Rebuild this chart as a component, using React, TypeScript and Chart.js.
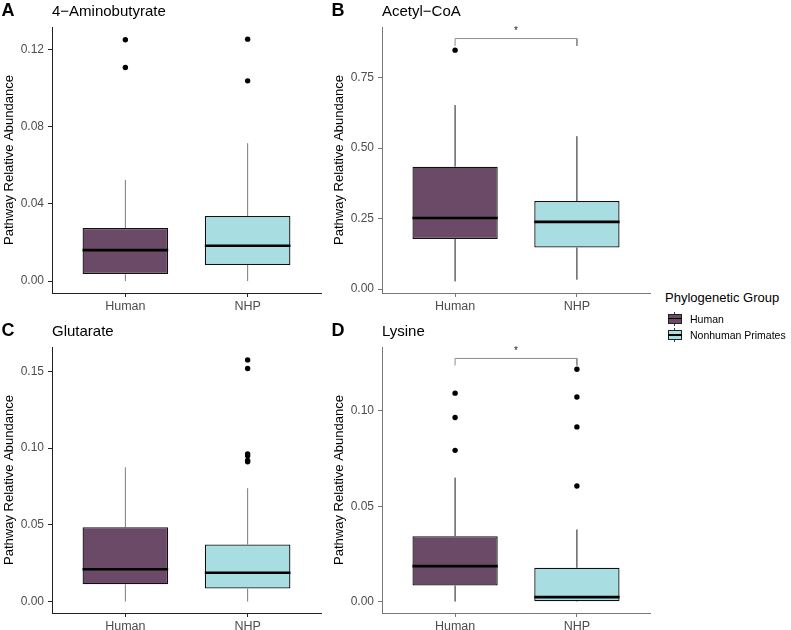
import React, { useEffect, useRef } from "react";
import { Chart, registerables } from "chart.js";

Chart.register(...registerables);
Chart.defaults.font.family = "'Liberation Sans', Arial, Helvetica, sans-serif";

// ---------- data ----------
const groups = ["Human", "NHP"];
const groupColors = ["#6a4a66", "#a8dde1"];
const legendTitle = "Phylogenetic Group";
const legendLabels = ["Human", "Nonhuman Primates"];
const yTitle = "Pathway Relative Abundance";

// Panel A
const aTitle = "4−Aminobutyrate";
const aLow = [0, 0];
const aQ1 = [0.0036, 0.0083];
const aMed = [0.016, 0.0183];
const aQ3 = [0.0275, 0.0337];
const aHigh = [0.0524, 0.0714];
const aOutHuman = [0.125, 0.1106];
const aOutNHP = [0.1253, 0.1037];
const aTicks = [0, 0.04, 0.08, 0.12];
const aTickLabels = ["0.00", "0.04", "0.08", "0.12"];
const aRange = [-0.0062, 0.1316];

// Panel B
const bTitle = "Acetyl−CoA";
const bLow = [0.027, 0.033];
const bQ1 = [0.177, 0.147];
const bMed = [0.252, 0.238];
const bQ3 = [0.434, 0.312];
const bHigh = [0.652, 0.542];
const bOutHuman = [0.847];
const bOutNHP: number[] = [];
const bTicks = [0, 0.25, 0.5, 0.75];
const bTickLabels = ["0.00", "0.25", "0.50", "0.75"];
const bRange = [-0.014, 0.929];
const bBracket = [0.862, 0.888];
const bSig = "*";

// Panel C
const cTitle = "Glutarate";
const cLow = [0, 0];
const cQ1 = [0.0112, 0.0084];
const cMed = [0.021, 0.0188];
const cQ3 = [0.0484, 0.0372];
const cHigh = [0.0875, 0.0739];
const cOutHuman: number[] = [];
const cOutNHP = [0.1576, 0.152, 0.0963, 0.095, 0.092, 0.0912];
const cTicks = [0, 0.05, 0.1, 0.15];
const cTickLabels = ["0.00", "0.05", "0.10", "0.15"];
const cRange = [-0.0075, 0.166];

// Panel D
const dTitle = "Lysine";
const dLow = [0, 0];
const dQ1 = [0.0084, 0.0002];
const dMed = [0.0186, 0.0023];
const dQ3 = [0.0343, 0.0177];
const dHigh = [0.065, 0.0378];
const dOutHuman = [0.1093, 0.0965, 0.0793];
const dOutNHP = [0.1218, 0.1073, 0.0916, 0.0606];
const dTicks = [0, 0.05, 0.1];
const dTickLabels = ["0.00", "0.05", "0.10"];
const dRange = [-0.006, 0.1335];
const dBracket = [0.1238, 0.1275];
const dSig = "*";

// ---------- styling ----------
const FONT = "'Liberation Sans', Arial, Helvetica, sans-serif";
const TICK_COLOR = "#4d4d4d";

type PanelSpec = {
  letter: string;
  title: string;
  low: number[];
  q1: number[];
  med: number[];
  q3: number[];
  high: number[];
  outliers: number[][];
  ticks: number[];
  tickLabels: string[];
  range: number[];
  bracket: number[] | null;
  sig: string;
  axisColor: string;
  whiskerColor: string;
  left: number;
  top: number;
  width: number;
  height: number;
  padTop: number;
  padRight: number;
};

const panels: PanelSpec[] = [
  {
    letter: "A", title: aTitle, low: aLow, q1: aQ1, med: aMed, q3: aQ3, high: aHigh,
    outliers: [aOutHuman, aOutNHP], ticks: aTicks, tickLabels: aTickLabels, range: aRange,
    bracket: null, sig: "", axisColor: "#222222", whiskerColor: "#7a7a7a",
    left: 0, top: 0, width: 330, height: 310, padTop: 27, padRight: 9,
  },
  {
    letter: "B", title: bTitle, low: bLow, q1: bQ1, med: bMed, q3: bQ3, high: bHigh,
    outliers: [bOutHuman, bOutNHP], ticks: bTicks, tickLabels: bTickLabels, range: bRange,
    bracket: bBracket, sig: bSig, axisColor: "#777777", whiskerColor: "#1a1a1a",
    left: 330, top: 0, width: 330, height: 310, padTop: 27, padRight: 10,
  },
  {
    letter: "C", title: cTitle, low: cLow, q1: cQ1, med: cMed, q3: cQ3, high: cHigh,
    outliers: [cOutHuman, cOutNHP], ticks: cTicks, tickLabels: cTickLabels, range: cRange,
    bracket: null, sig: "", axisColor: "#222222", whiskerColor: "#7a7a7a",
    left: 0, top: 310, width: 330, height: 320, padTop: 37, padRight: 9,
  },
  {
    letter: "D", title: dTitle, low: dLow, q1: dQ1, med: dMed, q3: dQ3, high: dHigh,
    outliers: [dOutHuman, dOutNHP], ticks: dTicks, tickLabels: dTickLabels, range: dRange,
    bracket: dBracket, sig: dSig, axisColor: "#777777", whiskerColor: "#1a1a1a",
    left: 330, top: 310, width: 330, height: 320, padTop: 37, padRight: 10,
  },
];

const HALF_BOX = 0.35;

const sigPlugin = {
  id: "sigStar",
  afterDatasetsDraw(chart: any) {
    const opts = chart.options.plugins.sigStar;
    if (!opts || !opts.text) return;
    const { ctx, scales } = chart;
    const x = scales.x.getPixelForValue(opts.x);
    const y = scales.y.getPixelForValue(opts.y);
    ctx.save();
    ctx.fillStyle = "#222";
    ctx.font = `10px ${FONT}`;
    ctx.textAlign = "center";
    ctx.textBaseline = "alphabetic";
    ctx.fillText(opts.text, x, y - 4.5);
    ctx.restore();
  },
};

function buildConfig(p: PanelSpec): any {
  const datasets: any[] = [];
  datasets.push({
    type: "bar",
    data: groups.map((_, i) => ({ x: i + 1, y: [p.q1[i], p.q3[i]] })),
    backgroundColor: groupColors,
    borderColor: "#111111",
    borderWidth: 1.3,
    borderSkipped: false,
    categoryPercentage: 0.7,
    barPercentage: 1,
    order: 5,
  });
  groups.forEach((_, i) => {
    datasets.push({
      type: "line",
      data: [{ x: i + 1, y: p.q3[i] }, { x: i + 1, y: p.high[i] }],
      borderColor: p.whiskerColor, borderWidth: 1, pointRadius: 0, fill: false, order: 6,
    });
    datasets.push({
      type: "line",
      data: [{ x: i + 1, y: p.low[i] }, { x: i + 1, y: p.q1[i] }],
      borderColor: p.whiskerColor, borderWidth: 1, pointRadius: 0, fill: false, order: 6,
    });
    datasets.push({
      type: "line",
      data: [{ x: i + 1 - HALF_BOX, y: p.med[i] }, { x: i + 1 + HALF_BOX, y: p.med[i] }],
      borderColor: "#000000", borderWidth: 2.6, pointRadius: 0, fill: false, order: 2,
      borderCapStyle: "butt",
    });
  });
  datasets.push({
    type: "scatter",
    data: p.outliers.flatMap((arr, i) => arr.map((v) => ({ x: i + 1, y: v }))),
    backgroundColor: "#000000",
    borderColor: "#000000",
    borderWidth: 0,
    pointRadius: 2.7,
    order: 1,
  });
  if (p.bracket) {
    const [lo, hi] = p.bracket;
    datasets.push({
      type: "line",
      data: [{ x: 1, y: lo }, { x: 1, y: hi }, { x: 2, y: hi }, { x: 2, y: lo }],
      borderColor: "#8c8c8c", borderWidth: 1, pointRadius: 0, fill: false, order: 3,
    });
  }

  return {
    type: "bar",
    data: { datasets },
    options: {
      animation: false,
      responsive: false,
      maintainAspectRatio: false,
      events: [],
      layout: { padding: { top: p.padTop, right: p.padRight, left: 0, bottom: 0 } },
      plugins: {
        legend: { display: false },
        tooltip: { enabled: false },
        title: { display: false },
        sigStar: p.bracket ? { text: p.sig, x: 1.5, y: p.bracket[1] } : null,
      },
      scales: {
        x: {
          type: "linear",
          min: 0.4,
          max: 2.6,
          offset: false,
          afterBuildTicks: (s: any) => {
            s.ticks = groups.map((_, i) => ({ value: i + 1 }));
          },
          afterFit: (s: any) => {
            s.height = 17;
          },
          ticks: {
            callback: (_v: any, i: number) => groups[i],
            color: TICK_COLOR,
            font: { size: 12.5, family: FONT },
            padding: 2,
            autoSkip: false,
            maxRotation: 0,
            minRotation: 0,
          },
          grid: { display: true, offset: false, drawOnChartArea: false, drawTicks: true, tickLength: 4, color: p.axisColor },
          border: { display: true, color: p.axisColor, width: 1 },
        },
        y: {
          type: "linear",
          min: p.range[0],
          max: p.range[1],
          afterBuildTicks: (s: any) => {
            s.ticks = p.ticks.map((v) => ({ value: v }));
          },
          afterFit: (s: any) => {
            s.width = 52;
          },
          ticks: {
            callback: (_v: any, i: number) => p.tickLabels[i],
            color: TICK_COLOR,
            font: { size: 12, family: FONT },
            padding: 4,
          },
          grid: { display: true, drawOnChartArea: false, drawTicks: true, tickLength: 4, color: p.axisColor },
          border: { display: true, color: p.axisColor, width: 1 },
          title: {
            display: true,
            text: yTitle,
            color: "#000000",
            font: { size: 13, family: FONT },
            padding: { top: 2, bottom: 0 },
          },
        },
      },
    },
    plugins: [sigPlugin],
  };
}

function Panel({ p }: { p: PanelSpec }) {
  const ref = useRef<HTMLCanvasElement | null>(null);
  useEffect(() => {
    if (!ref.current) return;
    const chart = new Chart(ref.current, buildConfig(p));
    return () => chart.destroy();
  }, [p]);
  return (
    <div style={{ position: "absolute", left: p.left, top: p.top, width: p.width, height: p.height }}>
      <canvas ref={ref} width={p.width} height={p.height} style={{ width: p.width, height: p.height, display: "block" }} />
      <div
        style={{
          position: "absolute", left: 1.5, top: p.padTop - 26.5, fontFamily: FONT, fontWeight: "bold",
          fontSize: 18, lineHeight: "18px", color: "#000", whiteSpace: "nowrap",
        }}
      >
        {p.letter}
      </div>
      <div
        style={{
          position: "absolute", left: 52, top: p.padTop - 23.7, fontFamily: FONT,
          fontSize: 15, lineHeight: "15px", color: "#000", whiteSpace: "nowrap",
        }}
      >
        {p.title}
      </div>
    </div>
  );
}

function LegendKey({ color, top }: { color: string; top: number }) {
  return (
    <div style={{ position: "absolute", left: 666, top, width: 17, height: 17 }}>
      <div style={{ position: "absolute", left: 8, top: 1.5, width: 1, height: 14, background: "#333" }} />
      <div
        style={{
          position: "absolute", left: 1.5, top: 3.5, width: 14, height: 10, boxSizing: "border-box",
          background: color, border: "1px solid #222",
        }}
      />
      <div style={{ position: "absolute", left: 1.5, top: 7.7, width: 14, height: 1.6, background: "#000" }} />
    </div>
  );
}

export default function App() {
  return (
    <div style={{ position: "absolute", left: 0, top: 0, width: 791, height: 630, background: "#fff", overflow: "hidden" }}>
      {panels.map((p) => (
        <Panel key={p.letter} p={p} />
      ))}
      <div
        style={{
          position: "absolute", left: 665, top: 290.7, fontFamily: FONT, fontSize: 13, lineHeight: "13px",
          color: "#000", whiteSpace: "nowrap",
        }}
      >
        {legendTitle}
      </div>
      {legendLabels.map((lab, i) => (
        <React.Fragment key={lab}>
          <LegendKey color={groupColors[i]} top={310 + i * 16.5} />
          <div
            style={{
              position: "absolute", left: 690, top: 313.8 + i * 16.5, fontFamily: FONT, fontSize: 10.5,
              lineHeight: "10.5px", color: "#000", whiteSpace: "nowrap",
            }}
          >
            {lab}
          </div>
        </React.Fragment>
      ))}
    </div>
  );
}
